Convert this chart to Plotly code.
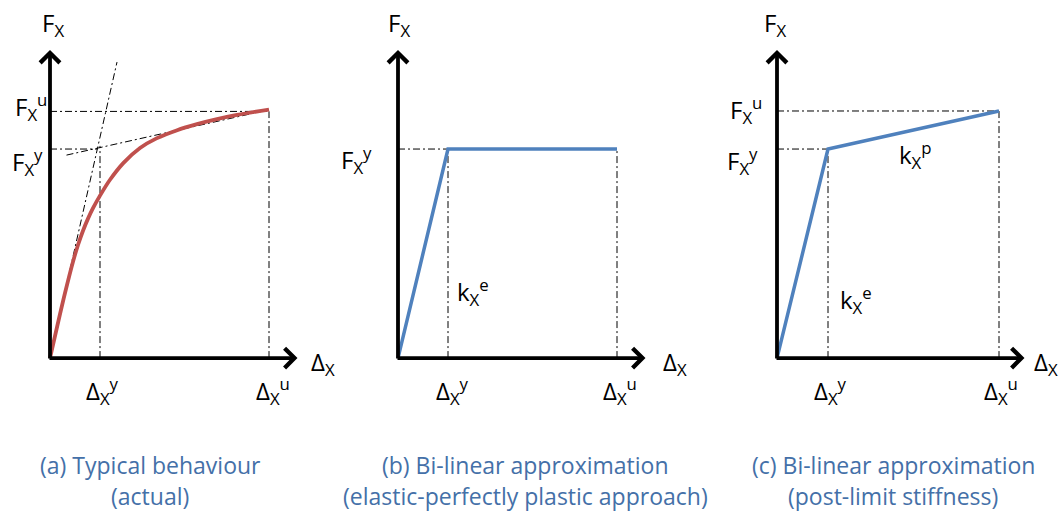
import plotly.graph_objects as go

# ---------------- data (displacement in mm, force in kN) ----------------
# (a) typical behaviour (actual)
a_curve_disp = [0, 1.5, 3.0, 4.6, 5.6, 6.6, 7.6, 8.6, 10.0, 12.0, 14.7, 18.0, 21.3, 25.3, 29.4, 33.4, 37.4, 43.8]
a_curve_force = [0, 15.8, 31.1, 46.1, 54.1, 60.9, 66.7, 71.7, 77.7, 85.3, 93.4, 100.5, 105.1, 108.9, 111.9, 114.3, 116.3, 118.9]
a_tangent_disp = [0, 13.4]
a_tangent_force = [0, 141.6]
a_secant_disp = [3.3, 43.8]
a_secant_force = [97.1, 118.8]
a_delta_y, a_delta_u = 10.0, 43.8
a_force_y, a_force_u = 100.0, 118.0
a_fy_guide_end = 9.5   # horizontal guide at F_y stops at the tangent
a_dy_guide_top = 101.5

# (b) bi-linear, elastic-perfectly plastic
b_disp = [0, 10.0, 43.8]
b_force = [0, 100.0, 100.0]

# (c) bi-linear with post-limit stiffness
c_disp = [0, 10.2, 44.4]
c_force = [0, 100.0, 118.2]

axis_tip_disp = 49.5
axis_tip_force = 147.4

captions_line1 = ["(a) Typical behaviour", "(b) Bi-linear approximation", "(c) Bi-linear approximation"]
captions_line2 = ["(actual)", "(elastic-perfectly plastic approach)", "(post-limit stiffness)"]

# ---------------- styling ----------------
RED = "#C0504D"
BLUE = "#4F81BD"
CAP = "#4470A8"
FONT = "Open Sans"
DASH = "7px,3px,2px,3px"

W, H = 1060, 514
dom_px = [(0, 330), (348, 678), (727, 1057)]
xr = [-10, 56]
yr = [-74.6, 171.3]

fig = go.Figure()
ax_ids = ["", "2", "3"]


def guide(i, xs, ys):
    fig.add_trace(go.Scatter(x=xs, y=ys, mode="lines", xaxis="x" + ax_ids[i], yaxis="y" + ax_ids[i],
                             line=dict(color="black", width=1, dash=DASH), hoverinfo="skip", showlegend=False))


# panel a guides
guide(0, a_tangent_disp, a_tangent_force)
guide(0, a_secant_disp, a_secant_force)
guide(0, [0, a_delta_u], [a_force_u, a_force_u])
guide(0, [a_delta_u, a_delta_u], [0, a_force_u])
guide(0, [0, a_fy_guide_end], [a_force_y, a_force_y])
guide(0, [a_delta_y, a_delta_y], [0, a_dy_guide_top])
fig.add_trace(go.Scatter(x=a_curve_disp, y=a_curve_force, mode="lines",
                         line=dict(color=RED, width=3.8, shape="spline", smoothing=1.0),
                         xaxis="x", yaxis="y", showlegend=False, hoverinfo="skip"))
# panel b
guide(1, [0, b_disp[1]], [b_force[1], b_force[1]])
guide(1, [b_disp[1], b_disp[1]], [0, b_force[1]])
guide(1, [b_disp[2], b_disp[2]], [0, b_force[2]])
fig.add_trace(go.Scatter(x=b_disp, y=b_force, mode="lines", line=dict(color=BLUE, width=3.5),
                         xaxis="x2", yaxis="y2", showlegend=False, hoverinfo="skip"))
# panel c
guide(2, [0, c_disp[1]], [c_force[1], c_force[1]])
guide(2, [0, c_disp[2]], [c_force[2], c_force[2]])
guide(2, [c_disp[1], c_disp[1]], [0, c_force[1]])
guide(2, [c_disp[2], c_disp[2]], [0, c_force[2]])
fig.add_trace(go.Scatter(x=c_disp, y=c_force, mode="lines", line=dict(color=BLUE, width=3.5),
                         xaxis="x3", yaxis="y3", showlegend=False, hoverinfo="skip"))

ann = []
for i in range(3):
    xref = "x" + ax_ids[i]
    yref = "y" + ax_ids[i]
    # axis arrows
    ann.append(dict(x=axis_tip_disp, y=0, ax=-0.4, ay=0, xref=xref, yref=yref, axref=xref, ayref=yref,
                    text="", showarrow=True, arrowhead=4, arrowsize=1.0, arrowwidth=3.8, arrowcolor="black", standoff=0))
    ann.append(dict(x=0, y=axis_tip_force, ax=0, ay=-0.9, xref=xref, yref=yref, axref=xref, ayref=yref,
                    text="", showarrow=True, arrowhead=4, arrowsize=1.0, arrowwidth=3.8, arrowcolor="black", standoff=0))


def label(i, text, x, y, xanchor="center", xshift=0, yshift=0, size=24, color="black"):
    ann.append(dict(x=x, y=y, xref="x" + ax_ids[i], yref="y" + ax_ids[i], text=text, showarrow=False,
                    xanchor=xanchor, yanchor="middle", xshift=xshift, yshift=yshift,
                    font=dict(family=FONT, size=size, color=color)))


FX = "F<sub>X</sub>"
DX = "Δ<sub>X</sub>"
# panel a labels
label(0, FX, 0, 160, xshift=3)
label(0, FX + "<sup>u</sup>", 0, a_force_u, xanchor="right", xshift=-1, yshift=4)
label(0, FX + "<sup>y</sup>", 0, a_force_y, xanchor="right", xshift=-5, yshift=-13)
label(0, DX + "<sup>y</sup>", a_delta_y, -15.8, xshift=2)
label(0, DX + "<sup>u</sup>", a_delta_u, -15.8, xshift=4)
label(0, DX, 51.8, 0, xanchor="left", yshift=-5)
# panel b labels
label(1, FX, 0, 160, xshift=1)
label(1, FX + "<sup>y</sup>", 0, b_force[1], xanchor="right", xshift=-24, yshift=-11)
label(1, "k<sub>X</sub><sup>e</sup>", b_disp[1], 31.6, xshift=25)
label(1, DX + "<sup>y</sup>", b_disp[1], -15.8, xshift=4)
label(1, DX + "<sup>u</sup>", b_disp[2], -15.8, xshift=3)
label(1, DX, 52.6, 0, xanchor="left", yshift=-5)
# panel c labels
label(2, FX, 0, 160, xshift=-2)
label(2, FX + "<sup>u</sup>", 0, c_force[2], xanchor="right", xshift=-13, yshift=1)
label(2, FX + "<sup>y</sup>", 0, c_force[1], xanchor="right", xshift=-17, yshift=-12)
label(2, "k<sub>X</sub><sup>e</sup>", c_disp[1], 27.8, xshift=28)
label(2, "k<sub>X</sub><sup>p</sup>", 27.6, 100, yshift=-6)
label(2, DX + "<sup>y</sup>", c_disp[1], -15.8, xshift=2)
label(2, DX + "<sup>u</sup>", c_disp[2], -15.8, xshift=2)
label(2, DX, 51, 0, xanchor="left", yshift=-5)

cap_x = [150, 525, 893]
for i in range(3):
    ann.append(dict(x=cap_x[i] / W, y=1 - 465 / H, xref="paper", yref="paper", text=captions_line1[i], showarrow=False,
                    xanchor="center", yanchor="middle", font=dict(family=FONT, size=23, color=CAP)))
    ann.append(dict(x=cap_x[i] / W, y=1 - 496 / H, xref="paper", yref="paper", text=captions_line2[i], showarrow=False,
                    xanchor="center", yanchor="middle", font=dict(family=FONT, size=23, color=CAP)))

layout = dict(width=W, height=H, margin=dict(l=0, r=0, t=0, b=0), paper_bgcolor="white", plot_bgcolor="white",
              annotations=ann, showlegend=False)
for i in range(3):
    layout["xaxis" + ax_ids[i]] = dict(domain=[dom_px[i][0] / W, dom_px[i][1] / W], range=xr, visible=False,
                                       anchor="y" + ax_ids[i], fixedrange=True)
    layout["yaxis" + ax_ids[i]] = dict(domain=[0, 1], range=yr, visible=False, anchor="x" + ax_ids[i], fixedrange=True)
fig.update_layout(**layout)
fig.write_html("out.html")
